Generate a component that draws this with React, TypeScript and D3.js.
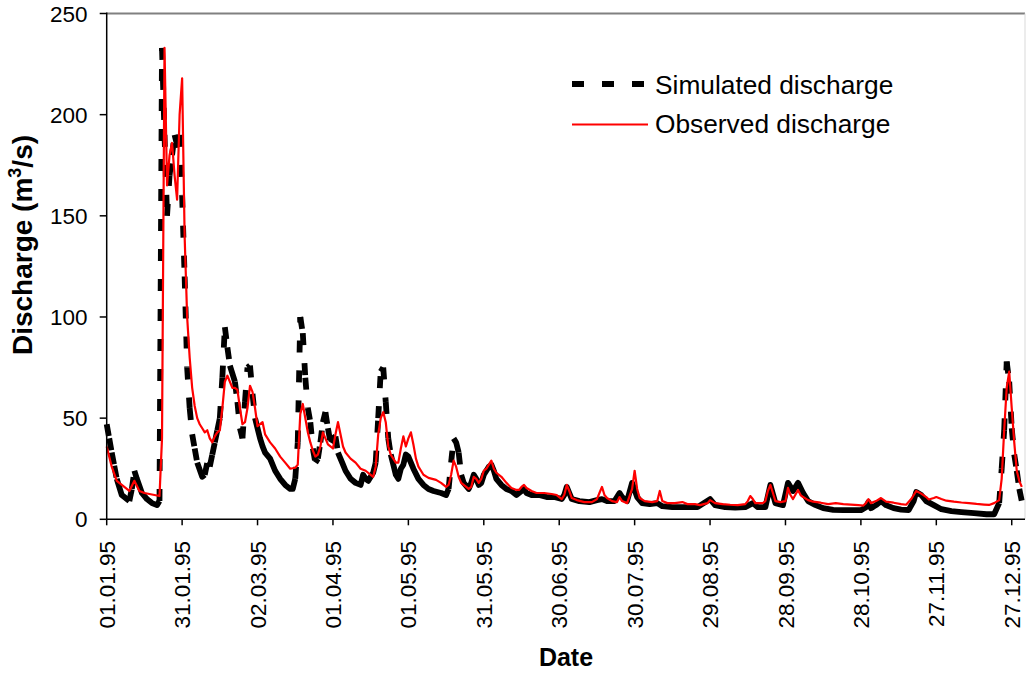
import React from "react";
import * as d3 from "d3";

// ---- data (day of year 1995, value in m3/s) ----
const simDays = [0,2,4,6,8,9,10,11,12,14,16,18,20,21,22,23,24,25,26,27,28,29,30,31,32,33,34,36,38,39,40,41,42,43,45,46,47,48,49,50,51,52,53,54,55,56,57,58,59,60,61,62,63,65,67,69,71,73,74,75,76,77,78,79,80,81,82,83,84,85,86,87,88,89,90,91,92,93,94,95,97,99,101,102,103,104,106,107,108,109,110,111,112,113,114,115,116,117,118,119,120,121,122,124,126,128,130,133,135,136,137,138,139,140,141,142,144,145,146,147,148,149,150,151,152,153,154,155,157,159,161,163,165,166,167,169,172,175,178,181,182,183,184,185,188,192,195,197,199,202,204,205,207,209,211,213,216,219,221,225,230,235,240,242,246,250,254,257,259,262,264,266,269,271,273,275,277,279,282,285,289,293,297,300,302,303,304,306,308,310,313,316,319,321,322,324,326,329,332,336,340,345,350,353,355,356,357,358,359,360,361,362,363,364];
const simValues = [47,33,20,12,10,9,15,24,20,13,10,8,7,9,233,190,150,170,180,190,185,190,160,120,75,55,42,28,21,22,28,26,32,38,50,70,95,85,76,72,68,58,45,40,58,75,76,62,50,45,40,36,33,30,24,20,17,15,15,20,38,100,92,70,55,48,35,28,30,38,48,53,45,38,40,41,33,30,27,24,20,18,17,22,20,19,23,28,50,73,75,58,40,32,27,22,20,25,27,32,31,28,25,20,17,15,14,13,12,15,28,40,38,33,22,18,15,18,22,20,17,18,22,24,26,27,24,20,17,15,14,12,14,15,13,12,12,11,11,10,12,16,13,10,9,8.5,9.5,10,9,9,13,11,9,18,11,8,7.5,8,6.5,6,6,6,10,7,6,5.8,6,8,6,6,17,8,7,18,14,18,13,9,7,5.5,4.7,4.5,4.5,4.5,6,8.6,5.5,7,9,7,5.5,4.8,4.6,9,13.5,12,9,7,5,4,3.5,3,2.5,2.5,8,25,44,78,68,45,32,24,15,9];

const obsDays = [0,2,4,6,8,9,11,13,15,17,19,21,22,23,24,25,26,27,28,29,30,31,32,33,34,35,36,37,38,39,40,41,42,43,44,45,46,47,48,49,50,51,52,53,54,55,56,57,58,59,60,61,62,63,64,65,67,69,71,73,75,76,77,78,79,80,81,82,83,84,85,86,87,88,89,90,91,92,93,94,95,97,99,101,103,105,106,107,108,109,110,111,112,113,114,115,116,117,118,119,120,121,122,123,124,126,128,131,133,135,136,137,138,139,140,141,143,144,145,146,147,148,149,150,151,152,153,154,155,157,159,161,163,164,165,166,167,169,171,174,177,179,181,182,183,184,185,187,190,193,195,196,197,198,199,201,203,204,205,207,209,210,211,212,214,217,219,220,221,223,226,229,231,234,236,239,240,242,245,248,251,254,255,256,257,258,261,262,263,264,265,266,268,270,271,272,273,275,276,277,279,281,284,287,290,293,296,299,301,302,303,304,306,308,310,313,316,318,320,322,324,326,327,329,330,332,334,337,340,343,346,349,351,353,355,356,357,358,359,360,361,362,363,364];
const obsValues = [36,26,19,17,15,14,19,14,13,12.5,12,11.5,40,233,165,180,186,170,158,200,218,140,100,80,65,56,50,47,45,43,44,40,38,41,43,44,55,68,71,68,65,65,64,55,47,48,55,66,63,55,46,47,48,42,40,38,35,31,28,25,25.5,27,52,57,50,43,38,34,31,32,36,43,40,37,36,35,42,48,42,36,33,30,28,25,24,22,21,26,42,50,53,48,36,32,30,28,28,35,41,36,40,43,37,30,26,22,20.5,19.5,18,16,17,22,29,26,21,18,16,15,16,21,20,18,20,24,25,27,29,25,23,21,18,15.5,14.5,14.5,16,17,15.5,14,13,13,12.5,12,10,12,17,14,10.5,9.5,8.5,8.5,10,13,16,12,10.5,9,8.5,11,9,8,15,24,15,10.5,9,8.5,9,14,9,8,8,8.5,7.5,7.5,7,8,9.5,8,7.5,7.2,7,7.5,9,11.5,10,8,8,9,14,17,13,9,8.5,9,15.5,12,10,14.5,12,11,9.5,8.7,8.2,7.5,8,7.5,7.3,7,6.8,8,10,8,9,10.5,8.7,8.2,7.5,7.2,10,14,12.7,11,9.8,10.5,11,10,9.2,8.7,8.3,8,7.6,7.3,7.1,8,9.5,20,44,65,73,55,38,24,19,16];

const xTickDays = [0,30,60,90,120,150,180,210,240,270,300,330,360];
const xTickLabels = ["01.01.95","31.01.95","02.03.95","01.04.95","01.05.95","31.05.95","30.06.95","30.07.95","29.08.95","28.09.95","28.10.95","27.11.95","27.12.95"];
const yTicks = [0,50,100,150,200,250];

const seriesNames = ["Simulated discharge","Observed discharge"];

const W = 1026, H = 674;
const FONT = "'Liberation Sans', Arial, Helvetica, sans-serif";

export default function App() {
  const x = d3.scaleLinear().domain([0, 365]).range([106.7, 1024.3]);
  const y = d3.scaleLinear().domain([0, 250]).range([519.3, 13.5]);

  const obsLine = d3.line<number>()
    .x((_, i) => x(obsDays[i]))
    .y((v) => y(v));

  // Simulated: dash pattern restarts on each daily step (spreadsheet style)
  const solidParts: string[] = [];
  const dashed: { x1: number; y1: number; x2: number; y2: number; da: string }[] = [];
  let cur = "";
  for (let i = 0; i < simDays.length - 1; i++) {
    const x1 = x(simDays[i]), y1 = y(simValues[i]);
    const x2 = x(simDays[i + 1]), y2 = y(simValues[i + 1]);
    const len = Math.hypot(x2 - x1, y2 - y1);
    const n = simDays[i + 1] - simDays[i];
    const per = len / n;
    if (per <= 12) {
      if (!cur) cur = `M${x1},${y1}`;
      cur += `L${x2},${y2}`;
    } else {
      if (cur) { solidParts.push(cur); cur = ""; }
      const da = per < 30 ? `12 ${per - 12}` : "12 18";
      dashed.push({ x1, y1, x2, y2, da });
    }
  }
  if (cur) solidParts.push(cur);

  const simColor = "#000000";
  const obsColor = "#ff0000";
  const simW = 5.8;

  return (
    <svg width={W} height={H} style={{ position: "absolute", left: 0, top: 0, background: "#fff" }} fontFamily={FONT}>
      {/* frame */}
      <line x1={x(0)} x2={1025} y1={y(250)} y2={y(250)} stroke="#808080" strokeWidth={2} />
      <line x1={1025} x2={1025} y1={y(250)} y2={y(0)} stroke="#d9d9d9" strokeWidth={1} />

      {/* simulated */}
      {solidParts.map((d, i) => (
        <path key={"s" + i} d={d} fill="none" stroke={simColor} strokeWidth={simW} strokeLinejoin="round" />
      ))}
      {dashed.map((s, i) => (
        <line key={"d" + i} x1={s.x1} y1={s.y1} x2={s.x2} y2={s.y2} stroke={simColor} strokeWidth={simW} strokeDasharray={s.da} />
      ))}

      {/* observed */}
      <path d={obsLine(obsValues) || ""} fill="none" stroke={obsColor} strokeWidth={2.2} strokeLinejoin="round" />

      {/* axes */}
      <line x1={x(0)} x2={x(0)} y1={y(250) - 1} y2={y(0)} stroke="#000" strokeWidth={1.5} />
      <line x1={x(0)} x2={1025} y1={y(0)} y2={y(0)} stroke="#000" strokeWidth={1.5} />

      {yTicks.map((t) => (
        <g key={"y" + t}>
          <line x1={x(0) - 7} x2={x(0)} y1={y(t)} y2={y(t)} stroke="#000" strokeWidth={1.5} />
          <text x={87.5} y={y(t)} dy="0.36em" textAnchor="end" fontSize={22.5} fill="#000">{t}</text>
        </g>
      ))}

      {xTickDays.map((d, i) => (
        <g key={"x" + d}>
          <line x1={x(d)} x2={x(d)} y1={y(0)} y2={y(0) + 6} stroke="#000" strokeWidth={1.5} />
          <text transform={`translate(${x(d)},${541}) rotate(-90)`} dy="0.36em" textAnchor="end" fontSize={22.5} fill="#000">{xTickLabels[i]}</text>
        </g>
      ))}

      {/* axis titles */}
      <text transform={`translate(${32},${245}) rotate(-90)`} textAnchor="middle" fontSize={28} fontWeight="bold" fill="#000">
        Discharge (m<tspan dy="-11" fontSize={18}>3</tspan><tspan dy="11">/s)</tspan>
      </text>
      <text x={566} y={666} textAnchor="middle" fontSize={25} fontWeight="bold" fill="#000">Date</text>

      {/* legend */}
      <line x1={572} x2={644} y1={84} y2={84} stroke={simColor} strokeWidth={6} strokeDasharray="12 18" />
      <text x={655} y={94} fontSize={26.3} fill="#000">{seriesNames[0]}</text>
      <line x1={572} x2={648} y1={124.5} y2={124.5} stroke={obsColor} strokeWidth={2} />
      <text x={655} y={133} fontSize={26.3} fill="#000">{seriesNames[1]}</text>
    </svg>
  );
}
